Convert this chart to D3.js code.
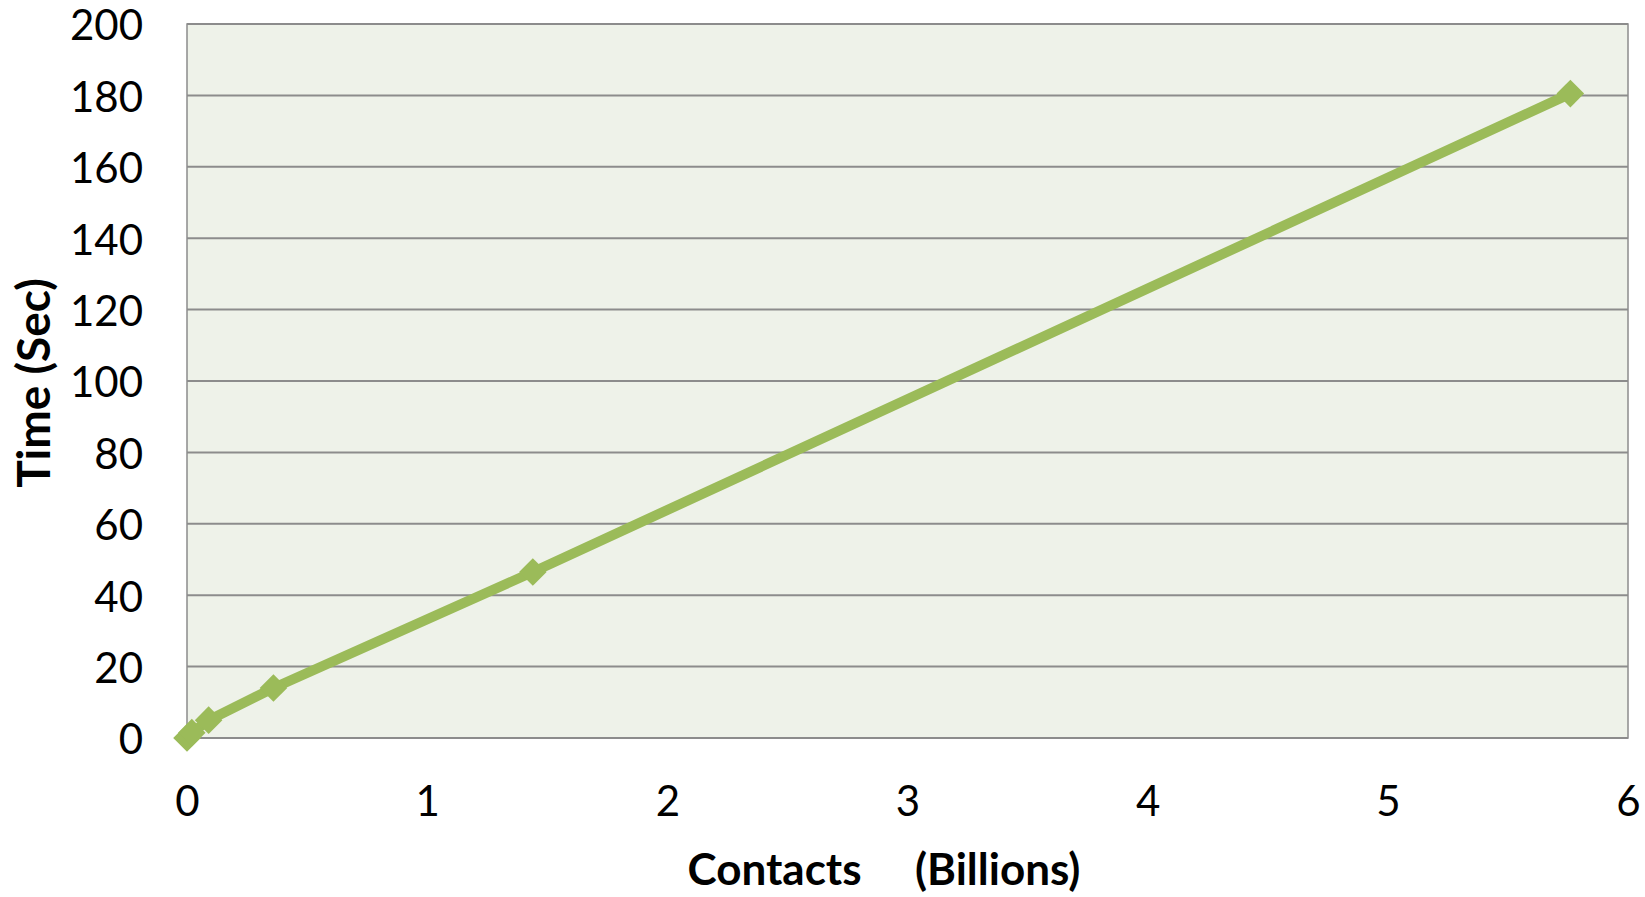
<!DOCTYPE html>
<html>
<head>
<meta charset="utf-8">
<script src="https://cdn.jsdelivr.net/npm/d3@7"></script>
<style>
  html, body { margin: 0; padding: 0; background: #fff; }
  svg { display: block; }
  text { font-family: Lato, "Open Sans", sans-serif; fill: #000; }
</style>
</head>
<body>
<svg id="chart" width="1645" height="897"></svg>
<script>
// Contacts processed (billions) vs. elapsed time (seconds)
const contacts = [0, 0.02, 0.09, 0.36, 1.44, 5.76];
const seconds  = [0, 1.5, 5, 14, 46.5, 180.5];
const xTicks = [0, 1, 2, 3, 4, 5, 6];
const yTicks = [0, 20, 40, 60, 80, 100, 120, 140, 160, 180, 200];
const xTitle = "Contacts     (Billions)";
const yTitle = "Time (Sec)";

const svg = d3.select("#chart");
const plot = { left: 187, right: 1628, top: 24, bottom: 738 };

const x = d3.scaleLinear().domain([0, 6]).range([plot.left, plot.right]);
const y = d3.scaleLinear().domain([0, 200]).range([plot.bottom, plot.top]);

// plot background
svg.append("rect")
  .attr("x", plot.left).attr("y", plot.top)
  .attr("width", plot.right - plot.left).attr("height", plot.bottom - plot.top)
  .attr("fill", "#EEF2E9")
  .attr("stroke", "#8C8C8C").attr("stroke-width", 1.5);

// horizontal gridlines
svg.append("g")
  .selectAll("line")
  .data(yTicks)
  .join("line")
  .attr("x1", plot.left).attr("x2", plot.right)
  .attr("y1", d => y(d)).attr("y2", d => y(d))
  .attr("stroke", "#8C8C8C").attr("stroke-width", 2);

// y axis labels
const yAxis = d3.axisLeft(y).tickValues(yTicks).tickSize(0).tickPadding(44);
svg.append("g")
  .attr("transform", `translate(${plot.left},0)`)
  .call(yAxis)
  .call(g => g.select(".domain").remove())
  .selectAll("text")
  .attr("dy", "0.38em")
  .style("font-family", "Lato, sans-serif")
  .style("font-size", "42px")
  .attr("fill", "#000");

// x axis labels
const xAxis = d3.axisBottom(x).tickValues(xTicks).tickSize(0).tickPadding(48).tickFormat(d3.format("d"));
svg.append("g")
  .attr("transform", `translate(0,${plot.bottom})`)
  .call(xAxis)
  .call(g => g.select(".domain").remove())
  .selectAll("text")
  .style("font-family", "Lato, sans-serif")
  .style("font-size", "42px")
  .attr("fill", "#000");

// axis titles
svg.append("text")
  .attr("x", 884).attr("y", 885)
  .attr("text-anchor", "middle")
  .style("font-size", "44px").style("font-weight", "bold")
  .style("white-space", "pre")
  .attr("xml:space", "preserve")
  .text(xTitle);

svg.append("text")
  .attr("transform", `translate(50,383) rotate(-90)`)
  .attr("text-anchor", "middle")
  .style("font-size", "46px").style("font-weight", "bold")
  .text(yTitle);

// series
const data = contacts.map((c, i) => ({ c, t: seconds[i] }));
const color = "#9BBB59";

svg.append("path")
  .datum(data)
  .attr("fill", "none")
  .attr("stroke", color)
  .attr("stroke-width", 10)
  .attr("stroke-linejoin", "round")
  .attr("d", d3.line().x(d => x(d.c)).y(d => y(d.t)));

// diamond markers
svg.append("g")
  .selectAll("path")
  .data(data)
  .join("path")
  .attr("transform", d => `translate(${x(d.c)},${y(d.t)}) rotate(45)`)
  .attr("d", d3.symbol().type(d3.symbolSquare).size(380))
  .attr("fill", color);
</script>
</body>
</html>
